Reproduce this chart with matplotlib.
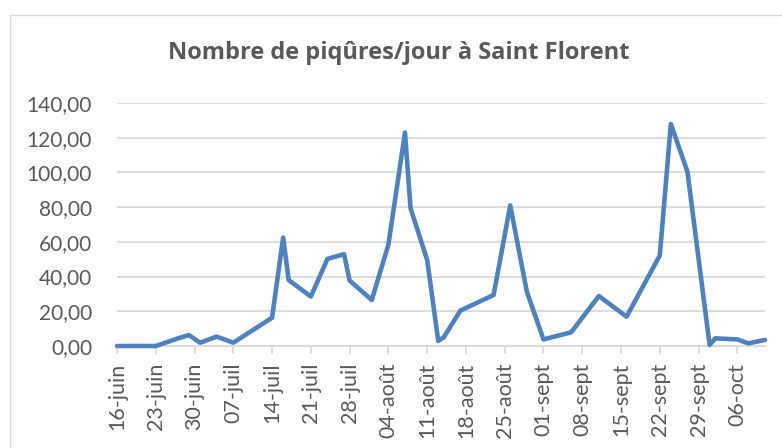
import datetime as dt
import matplotlib
matplotlib.use("Agg")
from matplotlib import pyplot as plt
import matplotlib.dates as mdates
from matplotlib.patches import Rectangle
from matplotlib.ticker import FuncFormatter, FixedLocator

## Data (year is arbitrary, only day/month matter)
dates = ["06-16", "06-23", "06-27", "06-29", "07-01", "07-04", "07-07",
         "07-14", "07-16", "07-17", "07-21", "07-24", "07-27", "07-28",
         "08-01", "08-04", "08-07", "08-08", "08-11", "08-13", "08-14",
         "08-17", "08-23", "08-26", "08-29", "09-01", "09-06", "09-11",
         "09-16", "09-22", "09-24", "09-27", "10-01", "10-02", "10-06",
         "10-08", "10-11"]
piqures = [0, 0, 4.4, 6.3, 1.9, 5.4, 1.9,
           16.3, 62.5, 38, 28.5, 50.2, 52.9, 37.7,
           26.5, 58.3, 123, 79.4, 49.6, 3, 5,
           20.4, 29.4, 81, 31.3, 3.8, 7.9, 28.8,
           16.9, 52.1, 127.9, 100.4, 0.6, 4.4, 3.8,
           1.5, 3.5]
tick_dates = ["06-16", "06-23", "06-30", "07-07", "07-14", "07-21", "07-28",
              "08-04", "08-11", "08-18", "08-25", "09-01", "09-08", "09-15",
              "09-22", "09-29", "10-06"]
tick_labels = ["16-juin", "23-juin", "30-juin", "07-juil", "14-juil", "21-juil",
               "28-juil", "04-août", "11-août", "18-août", "25-août", "01-sept",
               "08-sept", "15-sept", "22-sept", "29-sept", "06-oct"]
y_ticks = [0, 20, 40, 60, 80, 100, 120, 140]

def toDate(s):
	m, d = s.split("-")
	return dt.date(2019, int(m), int(d))

if __name__ == "__main__":
	plt.rcParams["font.family"] = ["Lato", "DejaVu Sans"]
	grey = "#595959"
	light = "#d9d9d9"

	x = [toDate(s) for s in dates]
	xt = [mdates.date2num(toDate(s)) for s in tick_dates]

	f = plt.figure(figsize=(7.82, 4.48), dpi=100)
	# chart border like the Excel chart area
	f.patches.append(Rectangle((10/782, -0.5), 2.0, 1.5 - 15/448, transform=f.transFigure,
	                           fill=False, edgecolor=light, linewidth=1.0))

	ax = f.add_axes([117/782, 1-346/448, (765-117)/782, (346-103)/448])
	ax.plot(x, piqures, color="#4f81bd", linewidth=3.3, solid_joinstyle="round",
	        solid_capstyle="round", zorder=3, clip_on=False)

	ax.set_xlim(mdates.date2num(toDate(dates[0])), mdates.date2num(toDate(dates[-1])))
	ax.set_ylim(0, 140)
	ax.xaxis.set_major_locator(FixedLocator(xt))
	ax.set_xticklabels(tick_labels, rotation=90)
	ax.set_yticks(y_ticks)
	ax.yaxis.set_major_formatter(FuncFormatter(lambda v, p: ("%.2f" % v).replace(".", ",")))

	ax.grid(axis="y", color=light, linewidth=1.3)
	ax.set_axisbelow(True)
	for s in ["top", "right", "left"]:
		ax.spines[s].set_visible(False)
	ax.spines["bottom"].set_color(light)
	ax.spines["bottom"].set_linewidth(1.3)
	ax.tick_params(axis="x", length=6, width=1.3, color=light, pad=6,
	               labelsize=15.5, labelcolor=grey)
	ax.yaxis.set_tick_params(length=0, pad=18, labelsize=15, labelcolor=grey)

	f.text(399/782, 1-59/448, "Nombre de piqûres/jour à Saint Florent", ha="center",
	       va="baseline", fontsize=17, fontweight="bold", color=grey,
	       family=["Open Sans", "DejaVu Sans"])

	f.savefig("out.png", dpi=100)
